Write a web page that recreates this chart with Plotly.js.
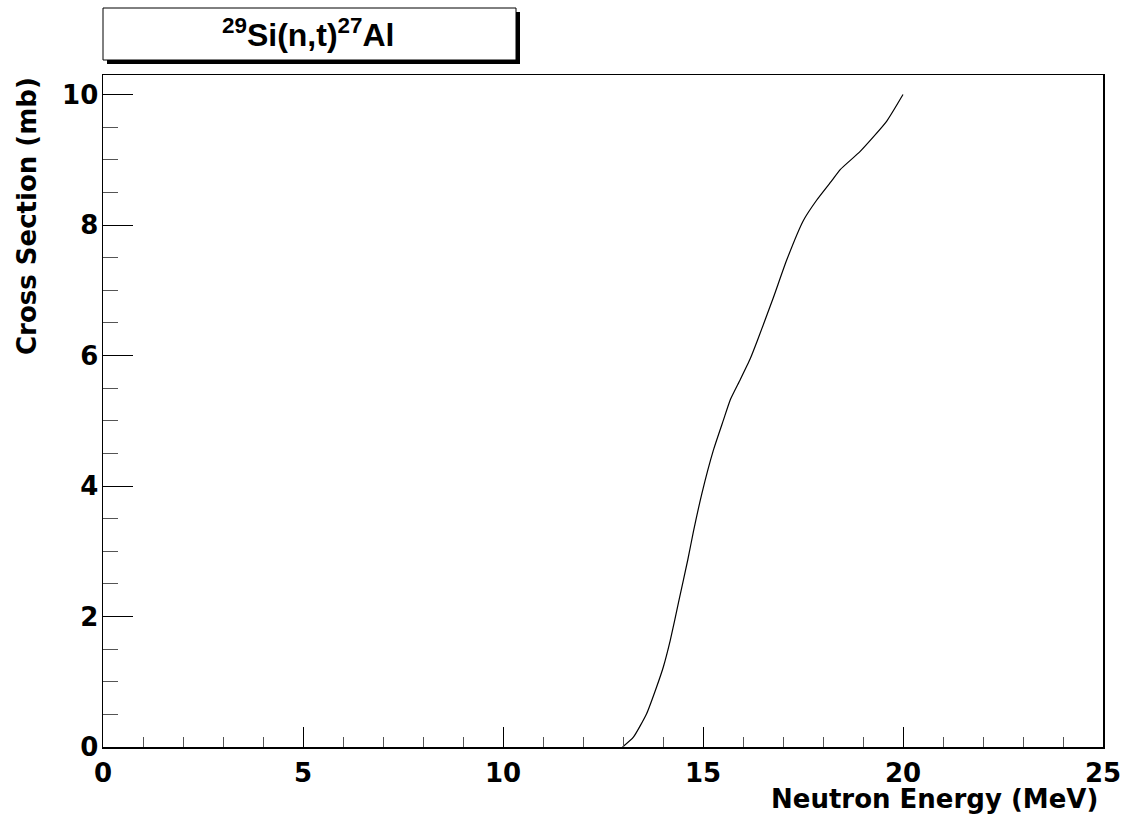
<!DOCTYPE html>
<html>
<head>
<meta charset="utf-8">
<script src="https://cdn.plot.ly/plotly-3.0.1.min.js"></script>
<style>html,body{margin:0;padding:0;background:#fff;}#chart{width:1124px;height:821px;}</style>
</head>
<body>
<div id="chart"></div>
<script>
// Neutron energy (MeV) and cross section (mb)
const energy = [12.99, 13.26, 13.59, 13.84, 14.01, 14.18, 14.40, 14.62, 14.76, 14.97, 15.26, 15.51, 15.68, 15.93, 16.18, 16.36, 16.76, 17.09, 17.51, 17.84, 18.22, 18.43, 18.93, 19.59, 20.0];
const crossSection = [0, 0.15, 0.51, 0.92, 1.23, 1.63, 2.25, 2.87, 3.30, 3.88, 4.55, 5.01, 5.32, 5.63, 5.95, 6.23, 6.89, 7.46, 8.07, 8.38, 8.68, 8.85, 9.13, 9.59, 10.0];
const xTickVals = [0, 5, 10, 15, 20, 25];
const yTickVals = [0, 2, 4, 6, 8, 10];
const titleText = "<sup>29</sup>Si(n,t)<sup>27</sup>Al";
const xTitle = "Neutron Energy (MeV)";
const yTitle = "Cross Section (mb)";

const W = 1124, H = 821;
const L = 103, R = 1103, T = 75, B = 747;
const pw = R - L, ph = B - T;
const px = x => (x - L) / pw;
const py = y => (B - y) / ph;
const FONT = "DejaVu Sans, Verdana, sans-serif";
const TFONT = "Liberation Sans, Arial, Helvetica, sans-serif";

const trace = {
  x: energy, y: crossSection, type: 'scatter', mode: 'lines',
  line: {color: '#000', width: 1.2, shape: 'spline', smoothing: 0.5},
  hoverinfo: 'skip', showlegend: false, cliponaxis: true
};

const layout = {
  width: W, height: H,
  margin: {l: L, r: W - R, t: T, b: H - B, pad: 0},
  paper_bgcolor: '#fff', plot_bgcolor: '#fff',
  showlegend: false,
  xaxis: {
    range: [0, 25], tickvals: xTickVals,
    ticks: 'inside', ticklen: 20, tickwidth: 1, tickcolor: '#000',
    minor: {dtick: 1, ticks: 'inside', ticklen: 10, tickwidth: 1, tickcolor: '#555'},
    showline: true, linecolor: '#000', linewidth: 1.5, mirror: true,
    showgrid: false, zeroline: false,
    tickfont: {family: FONT, size: 26, color: '#000', weight: 'bold'},
    ticklabelstandoff: 2
  },
  yaxis: {
    range: [0, 10.3], tickvals: yTickVals,
    ticks: 'inside', ticklen: 30, tickwidth: 1, tickcolor: '#000',
    minor: {dtick: 0.5, ticks: 'inside', ticklen: 15, tickwidth: 1, tickcolor: '#555'},
    showline: true, linecolor: '#000', linewidth: 1.5, mirror: true,
    showgrid: false, zeroline: false,
    tickfont: {family: FONT, size: 26, color: '#000', weight: 'bold'},
    ticklabelstandoff: -2
  },
  shapes: [
    {type: 'rect', xref: 'paper', yref: 'paper', x0: px(107), x1: px(520), y0: py(64), y1: py(12),
     fillcolor: '#000', line: {width: 0}, layer: 'above'},
    {type: 'rect', xref: 'paper', yref: 'paper', x0: px(103), x1: px(516), y0: py(60), y1: py(8),
     fillcolor: '#fff', line: {color: '#000', width: 1}, layer: 'above'}
  ],
  annotations: [
    {text: titleText, xref: 'paper', yref: 'paper', x: px(308), y: py(33), xanchor: 'center', yanchor: 'middle',
     showarrow: false, font: {family: TFONT, size: 32, color: '#000', weight: 'bold'}},
    {text: xTitle, xref: 'paper', yref: 'paper', x: px(1100), y: py(799), xanchor: 'right', yanchor: 'middle',
     showarrow: false, font: {family: FONT, size: 26, color: '#000', weight: 'bold'}},
    {text: yTitle, xref: 'paper', yref: 'paper', x: px(27), y: py(75), xanchor: 'center', yanchor: 'top',
     textangle: -90, showarrow: false, font: {family: FONT, size: 26, color: '#000', weight: 'bold'}}
  ]
};

Plotly.newPlot('chart', [trace], layout, {displayModeBar: false, staticPlot: true});
</script>
</body>
</html>
